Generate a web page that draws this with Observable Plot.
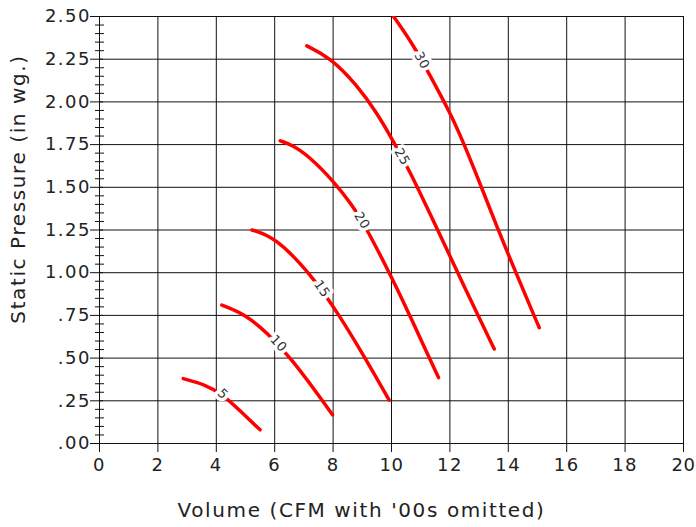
<!DOCTYPE html>
<html>
<head>
<meta charset="utf-8">
<script src="https://cdn.jsdelivr.net/npm/d3@7"></script>
<script src="https://cdn.jsdelivr.net/npm/@observablehq/plot@0.6"></script>
<style>
  html, body { margin: 0; padding: 0; background: #fff; }
  svg { font-family: "DejaVu Sans", sans-serif; }
</style>
</head>
<body>
<div id="chart"></div>
<script>
// ---- data ----
const curveNames = ["5", "10", "15", "20", "25", "30"];

const volume5 = [2.87, 3.60, 4.22, 4.99, 5.50];
const pressure5 = [0.380, 0.346, 0.290, 0.162, 0.080];

const volume10 = [4.19, 5.00, 5.73, 6.56, 7.64, 7.98];
const pressure10 = [0.810, 0.755, 0.650, 0.500, 0.250, 0.168];

const volume15 = [5.22, 6.00, 7.25, 8.20, 9.10, 9.92];
const pressure15 = [1.250, 1.210, 0.990, 0.755, 0.500, 0.254];

const volume20 = [6.19, 6.60, 7.22, 8.00, 8.64, 9.16, 10.00, 10.64, 11.27, 11.61];
const pressure20 = [1.772, 1.748, 1.675, 1.538, 1.400, 1.255, 0.975, 0.745, 0.510, 0.386];

const volume25 = [7.10, 7.90, 8.81, 9.50, 10.01, 10.58, 11.55, 12.20, 12.89, 13.52];
const pressure25 = [2.328, 2.260, 2.100, 1.935, 1.785, 1.612, 1.262, 1.025, 0.775, 0.553];

const volume30 = [10.07, 10.76, 11.27, 12.00, 12.47, 13.06, 13.63, 14.26, 14.88, 15.06];
const pressure30 = [2.500, 2.330, 2.170, 1.940, 1.760, 1.510, 1.260, 1.000, 0.750, 0.678];

const labelVolume = [4.22, 6.13, 7.62, 8.99, 10.36, 11.04];
const labelPressure = [0.290, 0.585, 0.905, 1.305, 1.679, 2.242];

const xTicks = [0, 2, 4, 6, 8, 10, 12, 14, 16, 18, 20];
const yMajor = [0, 0.25, 0.5, 0.75, 1, 1.25, 1.5, 1.75, 2, 2.25, 2.5];
const yMinor = [0.05, 0.1, 0.15, 0.2, 0.3, 0.35, 0.4, 0.45, 0.55, 0.6, 0.65, 0.7,
  0.8, 0.85, 0.9, 0.95, 1.05, 1.1, 1.15, 1.2, 1.3, 1.35, 1.4, 1.45, 1.55, 1.6, 1.65, 1.7,
  1.8, 1.85, 1.9, 1.95, 2.05, 2.1, 2.15, 2.2, 2.3, 2.35, 2.4, 2.45];

const xTitle = "Volume (CFM with '00s omitted)";
const yTitle = "Static Pressure (in wg.)";

// ---- build tables ----
const volumes = [volume5, volume10, volume15, volume20, volume25, volume30];
const pressures = [pressure5, pressure10, pressure15, pressure20, pressure25, pressure30];
const curveData = curveNames.flatMap((name, i) =>
  volumes[i].map((v, j) => ({curve: name, volume: v, pressure: pressures[i][j]})));

const W = 696, H = 527;
const mL = 99, mR = 13, mT = 16, mB = 84;
const kx = (W - mL - mR) / 20, ky = (H - mT - mB) / 2.5;

const labelData = curveNames.map((name, i) => {
  const xs = volumes[i], ys = pressures[i];
  const lx = labelVolume[i];
  let j = xs.findIndex(v => v > lx);
  if (j <= 0) j = 1;
  const a = j - 1, b = j;
  const ang = Math.atan2(-(ys[b] - ys[a]) * ky, (xs[b] - xs[a]) * kx) * 180 / Math.PI;
  return {text: name, volume: lx, pressure: labelPressure[i], angle: ang};
});

const fmt = d3.format(".2f");
const yFormat = v => v < 1 ? fmt(v).slice(1) : fmt(v);

const chart = Plot.plot({
  width: W, height: H,
  marginLeft: mL, marginRight: mR, marginTop: mT, marginBottom: mB,
  style: {fontFamily: "DejaVu Sans, sans-serif", background: "#fff", color: "#222"},
  x: {domain: [0, 20]},
  y: {domain: [0, 2.5]},
  marks: [
    Plot.ruleX(xTicks, {stroke: "#111", strokeWidth: 1}),
    Plot.ruleY(yMajor, {stroke: "#111", strokeWidth: 1}),
    Plot.line(curveData, {x: "volume", y: "pressure", z: "curve", stroke: "#ff0000",
      strokeWidth: 3.5, curve: "basis", clip: true}),
    Plot.text(labelData, {x: "volume", y: "pressure", text: "text", rotate: "angle",
      fill: "#333", stroke: "white", strokeWidth: 7, fontSize: 13}),
    Plot.axisX({ticks: xTicks, tickSize: 9, tickPadding: 6, fontSize: 18, label: null, stroke: "#111"}),
    Plot.axisY({ticks: yMajor, tickSize: 0, tickPadding: 8.5, tickFormat: yFormat, fontSize: 18, label: null}),
    Plot.axisY({ticks: yMajor, tickSize: 13, dx: 4, tickFormat: () => "", label: null, stroke: "#111"}),
    Plot.axisY({ticks: yMinor, tickSize: 9, dx: 5, tickFormat: () => "", label: null, stroke: "#111"}),
    Plot.text([xTitle], {frameAnchor: "bottom", textAnchor: "middle", dx: -30, dy: 73, fontSize: 20,
      fill: "#222"}),
    Plot.text([yTitle], {frameAnchor: "left", textAnchor: "middle", rotate: -90, dx: -81, dy: -41,
      fontSize: 20, fill: "#222"})
  ]
});
const sel = d3.select(chart);
sel.selectAll('g[aria-label="x-axis tick label"] text, g[aria-label="y-axis tick label"] text')
  .style("letter-spacing", "1.5px");
sel.selectAll("text")
  .filter(function() { const t = this.textContent; return t === xTitle || t === yTitle; })
  .style("letter-spacing", "1.6px");
sel.selectAll("text")
  .filter(function() { return curveNames.includes(this.textContent); })
  .style("letter-spacing", "0.5px");
document.getElementById("chart").appendChild(chart);
</script>
</body>
</html>
